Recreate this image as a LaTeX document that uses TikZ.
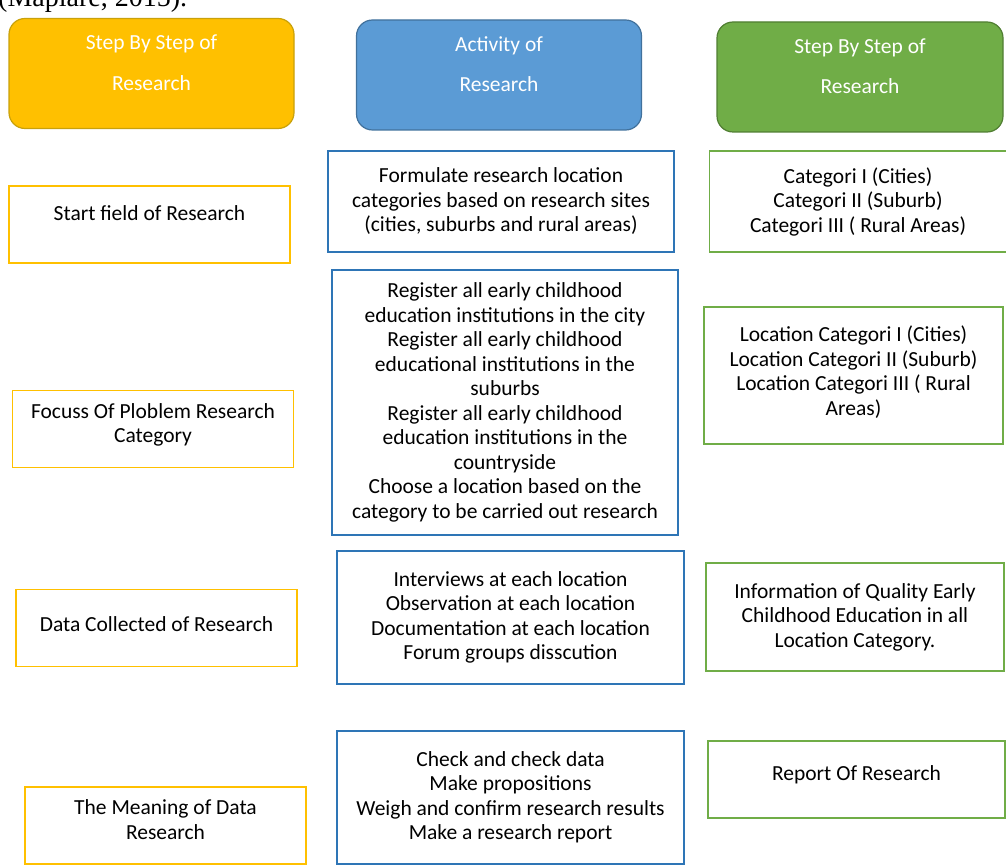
\documentclass[tikz,border=0pt]{standalone}
\usepackage{fontspec}
\setmainfont{Carlito}
\newfontfamily\citefont{Liberation Serif}
\usetikzlibrary{positioning}
\definecolor{stepfill}{HTML}{FFC000}
\definecolor{stepdark}{HTML}{C9A10A}
\definecolor{actfill}{HTML}{5B9BD5}
\definecolor{actdark}{HTML}{41719C}
\definecolor{actline}{HTML}{2E75B6}
\definecolor{resfill}{HTML}{70AD47}
\definecolor{resdark}{HTML}{507E32}

\begin{document}
\begin{tikzpicture}[x=1pt,y=-1pt, every node/.style={font=\fontsize{21.5}{24.5}\selectfont,align=center,inner sep=0pt},
  head/.style={draw,rounded corners=16pt,line width=1.2pt,text=white,minimum width=285pt,minimum height=110pt,text depth=22pt},
  stepbox/.style={draw=stepfill,line width=1.5pt,minimum width=281pt,minimum height=77pt},
  actbox/.style={draw=actline,line width=1.5pt,minimum width=346pt},
  resbox/.style={draw=resfill,line width=1.5pt,minimum width=297pt},
  liftby/.style={text depth=#1}]
\useasboundingbox (0,0) rectangle (1006,866);
\node[font=\citefont\fontsize{28}{30}\selectfont,anchor=base west] (cite) at (-2,7) {(Mapiare, 2015).};
% column heads
\node[head,fill=stepfill,draw=stepdark] (hstep) at (151.5,73.5) {Step By Step of\\[16pt]Research};
\node[head,fill=actfill,draw=actdark] (hact) at (499,75) {Activity of\\[16pt]Research};
\node[head,fill=resfill,draw=resdark,minimum width=286pt] (hres) at (860,77) {Step By Step of\\[16pt]Research};
% steps
\node[stepbox,liftby=22pt] (start) at (149.5,224.5) {Start field of Research};
\node[stepbox,liftby=12pt] (focus) at (153,429) {Focuss Of Ploblem Research\\Category};
\node[stepbox,liftby=8pt] (collect) at (156.5,628) {Data Collected of Research};
\node[stepbox,liftby=12pt] (meaning) at (165.5,825.5) {The Meaning of Data\\Research};
% activities
\node[actbox,minimum height=101pt] (formulate) at (501,201.5)
  {Formulate research location\\categories based on research sites\\(cities, suburbs and rural areas)};
\node[actbox,minimum height=265pt] (register) at (505,402.5)
  {Register all early childhood\\education institutions in the city\\Register all early childhood\\educational institutions in the\\suburbs\\Register all early childhood\\education institutions in the\\countryside\\Choose a location based on the\\category to be carried out research};
\node[actbox,minimum width=347pt,minimum height=133pt] (interview) at (510.5,617.5)
  {Interviews at each location\\Observation at each location\\Documentation at each location\\Forum groups disscution};
\node[actbox,minimum width=347pt,minimum height=133pt] (check) at (510.5,797.5)
  {Check and check data\\Make propositions\\Weigh and confirm research results\\Make a research report};
% results
\node[resbox,minimum height=101pt] (cat) at (858,201.5)
  {Categori I (Cities)\\Categori II (Suburb)\\Categori III ( Rural Areas)};
\node[resbox,minimum width=299pt,minimum height=137pt,liftby=10pt] (loccat) at (853.5,375.5)
  {Location Categori I (Cities)\\Location Categori II (Suburb)\\Location Categori III ( Rural\\Areas)};
\node[resbox,minimum width=298pt,minimum height=108pt] (info) at (855,617)
  {Information of Quality Early\\Childhood Education in all\\Location Category.};
\node[resbox,minimum height=77pt,liftby=12pt] (report) at (856.5,779.5) {Report Of Research};
\end{tikzpicture}
\end{document}
